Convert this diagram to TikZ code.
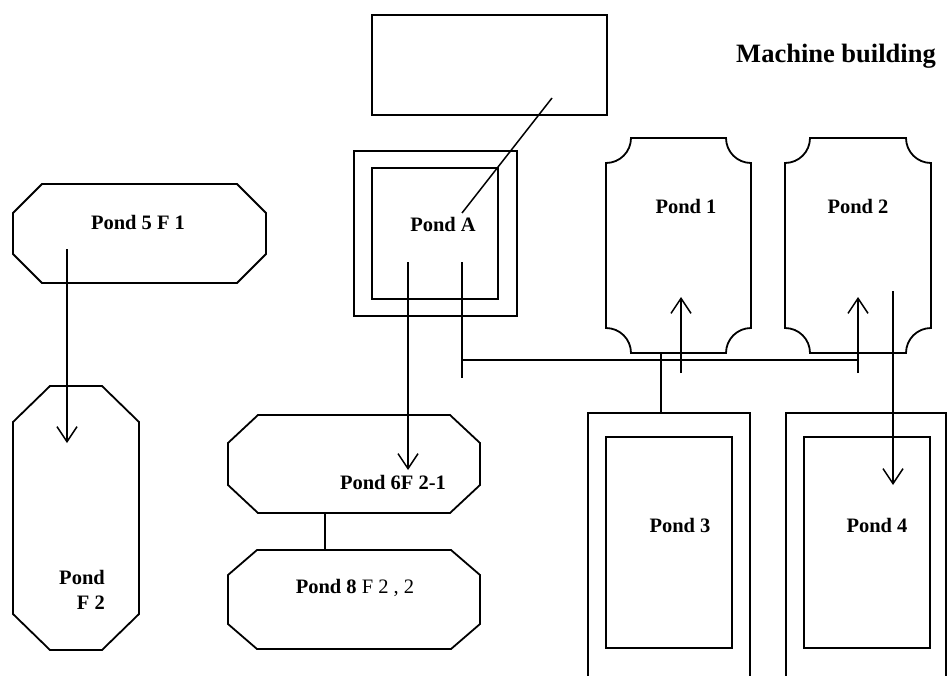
\documentclass[tikz,border=0pt]{standalone}
\usepackage{fontspec}
\setmainfont{Liberation Serif}
\usetikzlibrary{arrows.meta}
\newcommand\octagonbox[6]{\draw[outline] ({#1+#5},#2) -- ({#3-#5},#2) -- (#3,{#2+#6}) -- (#3,{#4-#6}) -- ({#3-#5},#4) -- ({#1+#5},#4) -- (#1,{#4-#6}) -- (#1,{#2+#6}) -- cycle;}
\tikzset{
  outline/.style={line width=1.8pt, line join=miter},
  conn/.style={line width=1.5pt},
  arr/.style={conn, -{Straight Barb[length=15pt,width=20pt,line width=1.5pt]}},
  lbl/.style={font=\fontsize{20.5}{24}\selectfont\bfseries, anchor=base, inner sep=0pt},
  framebox/.style={outline, draw, rectangle, inner sep=0pt}
}
\begin{document}
\begin{tikzpicture}[x=1pt,y=-1pt]
\useasboundingbox (0,0) rectangle (947,675);
\clip (0,0) rectangle (947,675);

% top rectangle
\node[framebox, minimum width=235pt, minimum height=100pt] (top) at (489.5,65) {};
\node[font=\fontsize{26.5}{30}\selectfont\bfseries, anchor=base, inner sep=0pt] (mach) at (836,62) {Machine building};

% Pond A
\node[framebox, minimum width=163pt, minimum height=165pt] (pAo) at (435.5,233.5) {};
\node[framebox, minimum width=126pt, minimum height=131pt] (pAi) at (435,233.5) {};
\node[lbl] (pA) at (443,231) {Pond A};
\coordinate (dA) at (552,98);
\coordinate (dB) at (462,213);
\draw[conn] (dA) -- (dB);

% Pond 1 and Pond 2
\draw[outline] (631,138) -- (726,138) .. controls (726,151.8) and (737.2,163) .. (751,163) -- (751,328) .. controls (737.2,328) and (726,339.2) .. (726,353) -- (631,353) .. controls (631,339.2) and (619.8,328) .. (606,328) -- (606,163) .. controls (619.8,163) and (631,151.8) .. (631,138) -- cycle;
\node[lbl] (p1) at (686,213) {Pond 1};
\draw[outline] (810,138) -- (906,138) .. controls (906,151.8) and (917.2,163) .. (931,163) -- (931,328) .. controls (917.2,328) and (906,339.2) .. (906,353) -- (810,353) .. controls (810,339.2) and (798.8,328) .. (785,328) -- (785,163) .. controls (798.8,163) and (810,151.8) .. (810,138) -- cycle;
\node[lbl] (p2) at (858,213) {Pond 2};

% Pond 3 and Pond 4
\draw[outline] (588,680) -- (588,413) -- (750,413) -- (750,680);
\node[framebox, minimum width=126pt, minimum height=211pt] (p3i) at (669,542.5) {};
\node[lbl] (p3) at (680,532) {Pond 3};
\draw[outline] (786,680) -- (786,413) -- (946,413) -- (946,680);
\node[framebox, minimum width=126pt, minimum height=211pt] (p4i) at (867,542.5) {};
\node[lbl] (p4) at (877,532) {Pond 4};

% octagons
\octagonbox{13}{184}{266}{283}{29}{29}
\node[lbl] (p5) at (138,229) {Pond 5 F 1};
\octagonbox{13}{386}{139}{650}{37}{36}
\node[lbl, anchor=base east] (pF2) at (105,584) {Pond};
\node[lbl, anchor=base east] (pF2b) at (105,609) {F 2};
\octagonbox{228}{415}{480}{513}{30}{28}
\node[lbl] (p6) at (393,489) {Pond 6F 2-1};
\octagonbox{228}{550}{480}{649}{29}{25}
\node[lbl] (p8) at (355,593) {Pond 8\mdseries\ F 2 , 2};

% connectors
\coordinate (c5a) at (67,249);
\coordinate (c5b) at (67,443);
\draw[arr] (c5a) -- (c5b);
\coordinate (cAa) at (408,262);
\coordinate (cAb) at (408,470);
\draw[arr] (cAa) -- (cAb);
\coordinate (c68a) at (325,513);
\coordinate (c68b) at (325,550);
\draw[conn] (c68a) -- (c68b);
\coordinate (cBa) at (462,262);
\coordinate (cBb) at (462,378);
\draw[conn] (cBa) -- (cBb);
\coordinate (hL) at (462,360);
\coordinate (hR) at (858,360);
\draw[conn] (hL) -- (hR);
\coordinate (u1a) at (681,373);
\coordinate (u1b) at (681,297);
\draw[arr] (u1a) -- (u1b);
\coordinate (u2a) at (858,373);
\coordinate (u2b) at (858,297);
\draw[arr] (u2a) -- (u2b);
\coordinate (v13a) at (661,353);
\coordinate (v13b) at (661,413);
\draw[conn] (v13a) -- (v13b);
\coordinate (d24a) at (893,291);
\coordinate (d24b) at (893,485);
\draw[arr] (d24a) -- (d24b);
\end{tikzpicture}
\end{document}
